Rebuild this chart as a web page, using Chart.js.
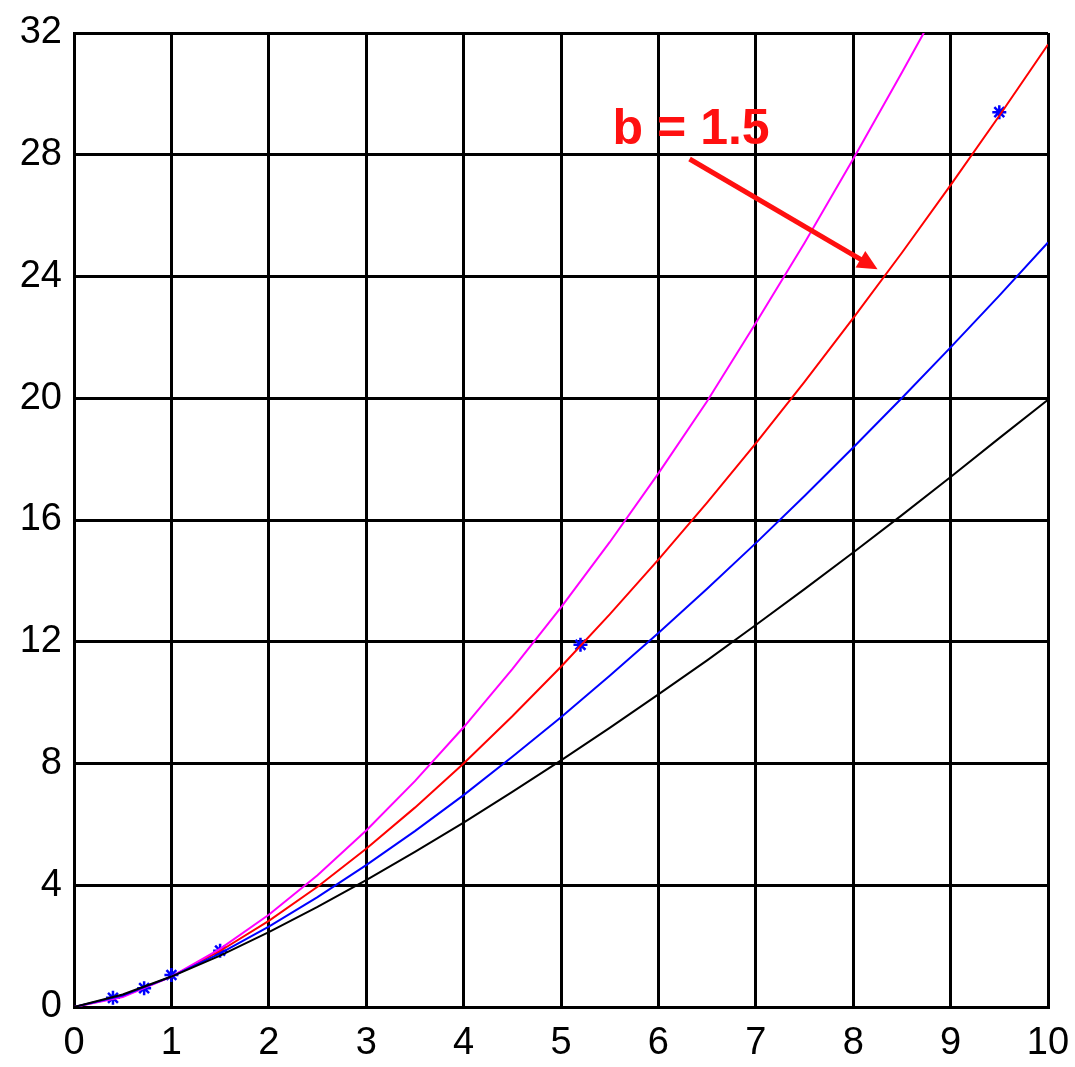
<!DOCTYPE html>
<html>
<head>
<meta charset="utf-8">
<script src="https://cdn.jsdelivr.net/npm/chart.js@4/dist/chart.umd.min.js"></script>
<style>
  html, body { margin: 0; padding: 0; background: #fff; }
  #wrap { width: 1075px; height: 1067px; }
</style>
</head>
<body>
<div id="wrap"><canvas id="grafico"></canvas></div>
<script>
// x positions of the sampled curves
const xs = [0, 0.5, 1, 1.5, 2, 2.5, 3, 3.5, 4, 4.5, 5, 5.5, 6, 6.5, 7, 7.5, 8, 8.5, 9, 9.5, 10];

// one curve per exponent b
const curvaB13 = [0, 0.41, 1, 1.69, 2.46, 3.29, 4.17, 5.1, 6.06, 7.07, 8.1, 9.17, 10.27, 11.39, 12.55, 13.73, 14.93, 16.16, 17.41, 18.69, 19.95];
const curvaB14 = [0, 0.38, 1, 1.76, 2.64, 3.61, 4.66, 5.78, 6.96, 8.22, 9.52, 10.88, 12.29, 13.74, 15.24, 16.79, 18.38, 20.01, 21.67, 23.37, 25.12];
const curvaB15 = [0, 0.35, 1, 1.84, 2.83, 3.95, 5.2, 6.55, 8, 9.55, 11.18, 12.9, 14.7, 16.57, 18.52, 20.54, 22.63, 24.78, 27, 29.28, 31.62];
const curvaB16 = [0, 0.33, 1, 1.91, 3.03, 4.33, 5.8, 7.42, 9.19, 11.1, 13.13, 15.27, 17.53, 19.9, 22.47, 25.1, 27.86, 30.7, 33.6, 36.6, 39.8];

// measured points
const medX = [0.4, 0.72, 1, 1.5, 5.2, 9.5];
const medY = [0.3, 0.62, 1.05, 1.85, 11.9, 29.4];

const xTicks = [0, 1, 2, 3, 4, 5, 6, 7, 8, 9, 10];
const yTicks = [0, 4, 8, 12, 16, 20, 24, 28, 32];

const rotulo = 'b = 1.5';

function pares(xv, yv) {
    return xv.map(function (x, i) { return { x: x, y: yv[i] }; });
}

function curva(yv, cor) {
    return {
        data: pares(xs, yv),
        showLine: true,
        borderColor: cor,
        backgroundColor: cor,
        borderWidth: 2,
        pointRadius: 0,
        tension: 0
    };
}

// red label with arrow pointing at the b = 1.5 curve
const anotacao = {
    id: 'anotacao',
    afterDatasetsDraw: function (chart) {
        const c = chart.ctx;
        const sx = chart.scales.x, sy = chart.scales.y;
        c.save();
        c.fillStyle = '#ff1010';
        c.font = 'bold 50px "Liberation Sans", Arial, sans-serif';
        c.textBaseline = 'alphabetic';
        c.fillText(rotulo, sx.getPixelForValue(5.53), sy.getPixelForValue(28.36));

        const x0 = sx.getPixelForValue(6.32), y0 = sy.getPixelForValue(27.86);
        const x1 = sx.getPixelForValue(8.25), y1 = sy.getPixelForValue(24.24);
        const ang = Math.atan2(y1 - y0, x1 - x0);
        const cab = 22;
        c.strokeStyle = '#ff1010';
        c.lineWidth = 5;
        c.beginPath();
        c.moveTo(x0, y0);
        c.lineTo(x1 - cab * 0.8 * Math.cos(ang), y1 - cab * 0.8 * Math.sin(ang));
        c.stroke();
        c.beginPath();
        c.moveTo(x1, y1);
        c.lineTo(x1 - cab * Math.cos(ang - 0.45), y1 - cab * Math.sin(ang - 0.45));
        c.lineTo(x1 - cab * Math.cos(ang + 0.45), y1 - cab * Math.sin(ang + 0.45));
        c.closePath();
        c.fill();
        c.restore();
    }
};

window.onload = function () {
    const ctx = document.getElementById('grafico').getContext('2d');
    const fonteTicks = { family: '"Liberation Sans", Arial, sans-serif', size: 38 };
    new Chart(ctx, {
        type: 'scatter',
        data: {
            datasets: [
                curva(curvaB13, '#000000'),
                curva(curvaB14, '#0000ff'),
                curva(curvaB16, '#ff00ff'),
                curva(curvaB15, '#ff0000'),
                {
                    data: pares(medX, medY),
                    showLine: false,
                    pointStyle: 'star',
                    pointRadius: 7,
                    borderColor: '#0000ff',
                    backgroundColor: '#0000ff',
                    pointBorderWidth: 2.5
                }
            ]
        },
        options: {
            responsive: true,
            maintainAspectRatio: false,
            animation: false,
            layout: { padding: { top: 33, right: 27, left: 0, bottom: 0 } },
            plugins: {
                legend: { display: false },
                tooltip: { enabled: false }
            },
            scales: {
                x: {
                    type: 'linear',
                    min: 0,
                    max: 10,
                    afterBuildTicks: function (s) { s.ticks = xTicks.map(function (v) { return { value: v }; }); },
                    afterFit: function (s) { s.height = 60; s.paddingLeft = 0; s.paddingRight = 0; },
                    grid: { color: '#000', lineWidth: 3, drawTicks: false },
                    border: { color: '#000', width: 3 },
                    ticks: { color: '#000', font: fonteTicks, padding: 14, maxRotation: 0 }
                },
                y: {
                    type: 'linear',
                    min: 0,
                    max: 32,
                    afterBuildTicks: function (s) { s.ticks = yTicks.map(function (v) { return { value: v }; }); },
                    afterFit: function (s) { s.width = 74; s.paddingTop = 0; s.paddingBottom = 0; },
                    grid: { color: '#000', lineWidth: 3, drawTicks: false },
                    border: { color: '#000', width: 3 },
                    ticks: { color: '#000', font: fonteTicks, padding: 12 }
                }
            }
        },
        plugins: [anotacao]
    });
};
</script>
</body>
</html>
